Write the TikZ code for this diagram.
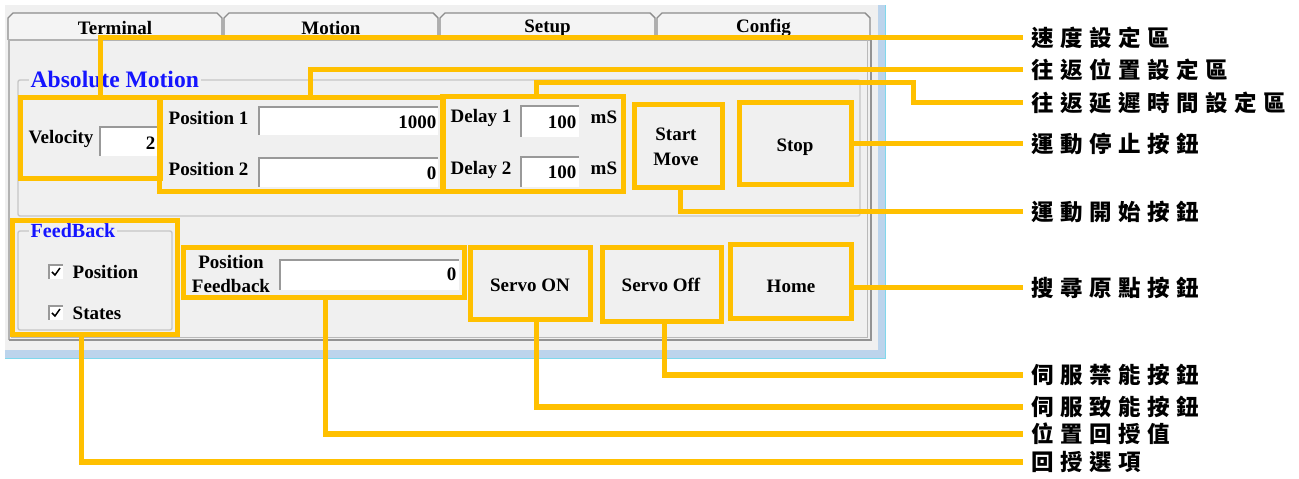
\documentclass[tikz,border=0pt]{standalone}
\usepackage{fontspec}
\setmainfont{Liberation Serif}
\newfontfamily\cjk[LetterSpace=29]{Noto Sans CJK TC}
\definecolor{hilite}{HTML}{FFC000}
\definecolor{winbg}{HTML}{F0F0F0}
\definecolor{tabbg}{HTML}{F4F4F4}
\definecolor{frameblue}{HTML}{BCD4EC}
\definecolor{framecyan}{HTML}{7FD8EC}
\definecolor{grptitle}{HTML}{1414FF}

\begin{document}
\begin{tikzpicture}[x=0.01cm, y=-0.01cm,
      ui/.style={font=\bfseries\fontsize{5.4}{7.1}\selectfont, inner sep=0pt},
      grp/.style={font=\bfseries\fontsize{5.7}{7}\selectfont, text=grptitle, fill=winbg, inner xsep=0.02cm, inner ysep=0pt, anchor=west},
      sunk/.style={draw=gray!80, line width=0.015cm},
      hibox/.style={draw=hilite, line width=0.05cm, inner sep=0pt, outer sep=0pt},
      lead/.style={hilite, line width=0.05cm},
      tag/.style={font=\cjk\bfseries\fontsize{6.4}{7}\selectfont, anchor=west, inner xsep=0.08cm, inner ysep=0pt}]
      \useasboundingbox (0,0) rectangle (1299,479);

      % window
      \fill[winbg] (5,5) rectangle (878,350);
      \fill[frameblue] (878,5) rectangle (885,358);
      \fill[frameblue] (5,350) rectangle (885,358);
      \draw[framecyan, line width=0.012cm] (5,358.5) -- (885.5,358.5) -- (885.5,5);

      % tabs
      \foreach \xa/\xb/\name in {8/222/Terminal, 224/438/Motion, 440/655/Setup, 657/870/Config}{
        \filldraw[fill=tabbg, draw=gray!90] (\xa,40) -- (\xa,18) -- (\xa+5,13) -- (\xb-5,13) -- (\xb,18) -- (\xb,40);
        \node[ui] (tab-\name) at ({(\xa+\xb)/2},28) {\name};
      }
      \draw[gray!60] (9,40) -- (870,40);
      \draw[gray!60] (9,40) -- (9,340);
      \draw[gray!55, line width=0.015cm] (11,337.5) -- (867.5,337.5) -- (867.5,40);
      \draw[gray!85, line width=0.02cm] (9,340.5) -- (870.5,340.5) -- (870.5,40);

      % group boxes
      \draw[gray!45, rounded corners=0.02cm] (18,80) rectangle (860,216);
      \node[grp, font=\bfseries\fontsize{6.7}{7}\selectfont] (absmotion) at (28,79) {Absolute Motion};
      \draw[gray!45, rounded corners=0.02cm] (18,231) rectangle (172,330);
      \node[grp] (feedback) at (28,231) {FeedBack};

      % edit fields
      \foreach \xa/\ya/\xb/\yb in {100/127/158/156, 259/107/438/135, 259/158/438/187,
                                   521/106/579/137, 521/157/579/187, 280/260/459/290}{
        \fill[white] (\xa,\ya) rectangle (\xb,\yb);
        \draw[sunk] (\xa,\yb) |- (\xb,\ya);
      }

      \node[ui, anchor=west] (vel-lbl) at (28,139) {Velocity};
      \node[ui, anchor=west] (p1-lbl) at (168,118) {Position 1};
      \node[ui, anchor=west] (p2-lbl) at (168,169) {Position 2};
      \node[ui, anchor=west] (d1-lbl) at (450,118) {Delay 1};
      \node[ui, anchor=west] (d2-lbl) at (450,170) {Delay 2};
      \node[ui, anchor=west] (d1-unit) at (590,117) {mS};
      \node[ui, anchor=west] (d2-unit) at (590,168) {mS};
      \node[ui, align=center] (pf-lbl) at (231,274) {Position\\Feedback};

      \node[ui, anchor=east] (vel-val) at (156,143) {2};
      \node[ui, anchor=east] (p1-val) at (437,122) {1000};
      \node[ui, anchor=east] (p2-val) at (437,173) {0};
      \node[ui, anchor=east] (d1-val) at (577,122) {100};
      \node[ui, anchor=east] (d2-val) at (577,172) {100};
      \node[ui, anchor=east] (pf-val) at (457,274) {0};

      % check boxes
      \foreach \y/\t in {272/Position, 313/States}{
        \fill[white] (49,\y-7) rectangle (63,\y+7);
        \draw[sunk] (49,\y+7) |- (63,\y-7);
        \draw[black, line width=0.015cm] (52,\y) -- (55,\y+3) -- (60,\y-4);
        \node[ui, anchor=west] (chk-\t) at (72,\y) {\t};
      }

      % buttons
      \node[ui, align=center] (start-btn) at (676,147) {Start\\Move};
      \node[ui] (stop-btn) at (795,147) {Stop};
      \node[ui] (on-btn) at (530,285) {Servo ON};
      \node[ui] (off-btn) at (661,285) {Servo Off};
      \node[ui] (home-btn) at (791,286) {Home};

      % highlight frames
      \node[hibox, minimum width=1.39cm, minimum height=0.80cm] (velbox) at (90.5,138) {};
      \node[hibox, minimum width=2.83cm, minimum height=0.93cm] (posbox) at (301.5,144.5) {};
      \node[hibox, minimum width=1.80cm, minimum height=0.94cm] (delaybox) at (533,144) {};
      \node[hibox, minimum width=0.87cm, minimum height=0.82cm] (startbox) at (678.5,146) {};
      \node[hibox, minimum width=1.11cm, minimum height=0.81cm] (stopbox) at (795.5,143.5) {};
      \node[hibox, minimum width=1.64cm, minimum height=1.13cm] (fbbox) at (95,277.5) {};
      \node[hibox, minimum width=2.80cm, minimum height=0.49cm] (pfbox) at (324,272.5) {};
      \node[hibox, minimum width=1.19cm, minimum height=0.71cm] (onbox) at (530.5,283.5) {};
      \node[hibox, minimum width=1.18cm, minimum height=0.73cm] (offbox) at (662,284.5) {};
      \node[hibox, minimum width=1.20cm, minimum height=0.73cm] (homebox) at (791,281.5) {};

      % captions
      \node[tag] (vel-tag) at (1023,38) {速度設定區};
      \node[tag] (pos-tag) at (1023,70) {往返位置設定區};
      \node[tag] (delay-tag) at (1023,103) {往返延遲時間設定區};
      \node[tag] (stop-tag) at (1023,143.5) {運動停止按鈕};
      \node[tag] (start-tag) at (1023,212) {運動開始按鈕};
      \node[tag] (home-tag) at (1023,288) {搜尋原點按鈕};
      \node[tag] (off-tag) at (1023,375) {伺服禁能按鈕};
      \node[tag] (on-tag) at (1023,407) {伺服致能按鈕};
      \node[tag] (pf-tag) at (1023,434) {位置回授值};
      \node[tag] (fb-tag) at (1023,462) {回授選項};

      % leaders
      \draw[lead] ([xshift=0.095cm]velbox.north) |- (vel-tag.west);
      \draw[lead] ([xshift=0.085cm]posbox.north) |- (pos-tag.west);
      \coordinate (bend) at (913,83);
      \draw[lead] ([xshift=0.03cm]delaybox.north) |- (bend) |- (delay-tag.west);
      \draw[lead] (stopbox.east) -- (stop-tag.west);
      \draw[lead] ([xshift=0.015cm]startbox.south) |- (start-tag.west);
      \draw[lead] (homebox.east |- home-tag.west) -- (home-tag.west);
      \draw[lead] ([xshift=0.02cm]offbox.south) |- (off-tag.west);
      \draw[lead] ([xshift=0.055cm]onbox.south) |- (on-tag.west);
      \draw[lead] ([xshift=0.01cm]pfbox.south) |- (pf-tag.west);
      \draw[lead] ([xshift=-0.13cm]fbbox.south) |- (fb-tag.west);
   \end{tikzpicture}
\end{document}
